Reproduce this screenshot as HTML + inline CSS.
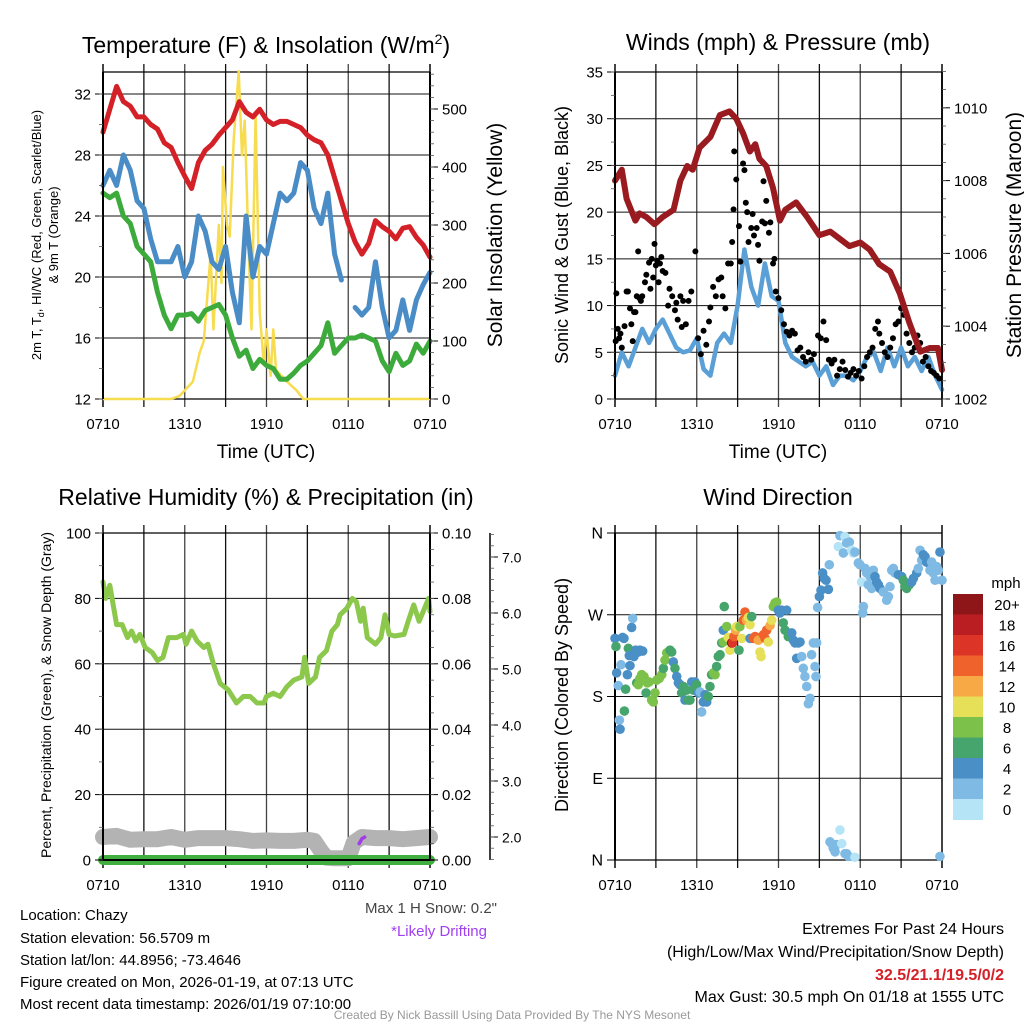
<!DOCTYPE html>
<html><head><meta charset="utf-8">
<style>
html,body{margin:0;padding:0;background:#fff;}
svg{display:block;font-family:"Liberation Sans",Arial,sans-serif;}
</style></head>
<body>
<svg id="fig" width="1024" height="1024" viewBox="0 0 1024 1024" xmlns="http://www.w3.org/2000/svg">
<rect x="0" y="0" width="1024" height="1024" fill="#fff"/>
<text x="266" y="53" font-size="23" text-anchor="middle">Temperature (F) &amp; Insolation (W/m<tspan font-size="14" dy="-9">2</tspan><tspan dy="9">)</tspan></text>
<text x="778" y="50" font-size="23" text-anchor="middle">Winds (mph) &amp; Pressure (mb)</text>
<text x="266" y="505" font-size="23" text-anchor="middle">Relative Humidity (%) &amp; Precipitation (in)</text>
<text x="778" y="505" font-size="23" text-anchor="middle">Wind Direction</text>
<text x="266" y="458" font-size="19" text-anchor="middle">Time (UTC)</text>
<text x="778" y="458" font-size="19" text-anchor="middle">Time (UTC)</text>
<text transform="translate(41,235) rotate(-90)" font-size="13" text-anchor="middle">2m T, T<tspan font-size="9" dy="3">d</tspan><tspan dy="-3">, HI/WC (Red, Green, Scarlet/Blue)</tspan></text>
<text transform="translate(58,235) rotate(-90)" font-size="13" text-anchor="middle">&amp; 9m T (Orange)</text>
<text transform="translate(502,235) rotate(-90)" font-size="21" text-anchor="middle">Solar Insolation (Yellow)</text>
<text transform="translate(568,235) rotate(-90)" font-size="18" text-anchor="middle">Sonic Wind &amp; Gust (Blue, Black)</text>
<text transform="translate(1021,235) rotate(-90)" font-size="21" text-anchor="middle">Station Pressure (Maroon)</text>
<text transform="translate(51,695) rotate(-90)" font-size="14" text-anchor="middle">Percent, Precipitation (Green), &amp; Snow Depth (Gray)</text>
<text transform="translate(568,695) rotate(-90)" font-size="18" text-anchor="middle">Direction (Colored By Speed)</text>
<g font-size="15" fill="#000">
<text x="20" y="920">Location: Chazy</text>
<text x="20" y="943">Station elevation: 56.5709 m</text>
<text x="20" y="965">Station lat/lon: 44.8956; -73.4646</text>
<text x="20" y="987">Figure created on Mon, 2026-01-19, at 07:13 UTC</text>
<text x="20" y="1009">Most recent data timestamp: 2026/01/19 07:10:00</text>
</g>
<text x="497" y="913" font-size="15" fill="#444" text-anchor="end">Max 1 H Snow: 0.2"</text>
<text x="487" y="936" font-size="15" fill="#a040f0" text-anchor="end">*Likely Drifting</text>
<g font-size="16" text-anchor="end">
<text x="1004" y="934">Extremes For Past 24 Hours</text>
<text x="1004" y="957">(High/Low/Max Wind/Precipitation/Snow Depth)</text>
<text x="1004" y="980" fill="#d42027" font-weight="bold">32.5/21.1/19.5/0/2</text>
<text x="1004" y="1002">Max Gust: 30.5 mph On 01/18 at 1555 UTC</text>
</g>
<text x="512" y="1019" font-size="12" fill="#999" text-anchor="middle">Created By Nick Bassill Using Data Provided By The NYS Mesonet</text>
<g id="root"></g>
</svg>
<script>
// ---------- DATA ----------
const xTickLabels = ["0710","1310","1910","0110","0710"];
const xTickHours = [0,6,12,18,24];
const tempTimes = [0,0.5,1,1.5,2,2.5,3,3.5,4,4.5,5,5.5,6,6.5,7,7.5,8,8.5,9,9.5,10,10.5,11,11.5,12,12.5,13,13.5,14,14.5,15,15.5,16,16.5,17,17.5,18,18.5,19,19.5,20,20.5,21,21.5,22,22.5,23,23.5,24];
const tempRed = [29.5,31,32.5,31.5,31.2,30.5,30.5,30,29.7,28.8,28.5,27.5,26.6,25.8,27.5,28.3,28.7,29.3,29.8,30.3,31.5,30.8,30.5,31,30.3,30,30.2,30.2,30,29.8,29.3,29,28.8,28,26.5,25,23.5,22.3,21.5,22.2,23.7,23.3,23,22.5,23.2,23.3,22.6,22.1,21.3];
const tempBlue = [26,27,26,28,27,25,24.5,22.5,21,21,21,22,20,21,24,23,21,20.5,22,19,17,24,20,22,21.5,23.5,25.5,25,25.5,27.5,27,24.5,23.5,25.5,21.5,19.8,null,18,17.5,18,21,18,16,16.5,18.5,16.5,18.5,19.5,20.3];
const tempGreen = [25.5,25.2,25.5,24,23.5,22,21.5,21,19,17.5,16.6,17.5,17.5,17.6,17.1,17.8,18,18.2,17.5,16,14.8,15.2,14,14.6,14.2,14,13.3,13.3,13.7,14.2,14.5,15,15.5,17,15,15.5,16,16,16.2,16,15.8,14.5,13.8,15,14.2,14.5,15.6,15,15.8];
const solarTimes = [0,5,5.6,6,6.6,7.1,7.4,7.9,8.1,8.5,8.7,8.8,9.1,9.3,9.6,9.96,10.2,10.4,10.7,10.9,11.2,11.5,11.8,12,12.3,12.5,12.7,13.5,14.2,14.7,24];
const solarVals = [0,0,5,15,30,80,100,250,120,300,200,400,300,280,450,565,420,480,250,120,490,150,60,120,40,120,50,30,15,0,0];
const windTimes = tempTimes;
const windSpeed = [2.5,5,3.5,5.5,7.5,6,7.5,8.5,7,5.5,5,5.2,6.5,3.2,2.5,6,7,6,10,16,12,10,14.5,11,10.5,6,4.5,4,3.5,4,2.5,3.5,1.5,2.5,2.5,2,3,4.5,5,3,5.5,3.5,5.5,3.5,4.5,3,4.5,2.5,1];
const pressTimes = [0,0.5,0.85,1.5,1.8,2.3,2.9,3.5,4.3,4.8,5.3,5.7,6.2,7.0,7.7,8.4,8.9,9.4,9.9,10.3,10.6,11.1,11.6,12.1,12.5,13.3,14.1,15.0,15.8,16.5,17.2,18.0,18.7,19.4,20.2,20.9,21.6,22.4,23.1,23.7,24];
const pressVals = [1008.0,1008.3,1007.5,1006.9,1007.1,1007,1006.8,1007,1007.2,1008,1008.4,1008.3,1008.9,1009.2,1009.8,1009.9,1009.7,1009.3,1008.8,1009.0,1008.6,1008.4,1007.8,1006.9,1007.2,1007.4,1007.0,1006.5,1006.6,1006.4,1006.2,1006.3,1006.1,1005.7,1005.5,1004.9,1004.1,1003.3,1003.4,1003.4,1002.8];
const gustTimes = [0.05,0.1,0.2,0.3,0.4,0.5,0.7,0.85,0.95,1.1,1.2,1.3,1.4,1.5,1.6,1.7,1.8,1.9,2.0,2.2,2.3,2.5,2.6,2.7,2.8,2.9,3.0,3.1,3.2,3.3,3.4,3.5,3.7,3.9,4.0,4.2,4.4,4.5,4.6,4.8,4.9,5.0,5.2,5.4,5.6,5.9,6.1,6.3,6.5,6.7,6.9,7.0,7.2,7.4,7.6,7.8,7.9,8.1,8.3,8.5,8.6,8.7,8.75,8.9,9.1,9.2,9.4,9.5,9.6,9.7,9.8,10.0,10.1,10.2,10.4,10.5,10.6,10.8,10.9,11.0,11.1,11.3,11.4,11.6,11.7,11.8,12.0,12.2,12.4,12.6,12.8,13.0,13.2,13.4,13.6,13.8,14.0,14.2,14.4,14.6,14.9,15.1,15.3,15.5,15.7,15.9,16.1,16.3,16.5,16.7,16.9,17.1,17.3,17.5,17.7,17.9,18.1,18.3,18.5,18.7,18.9,19.1,19.3,19.4,19.6,19.8,20.0,20.2,20.4,20.6,20.8,21.0,21.2,21.4,21.6,21.8,22.0,22.2,22.4,22.6,22.8,23.0,23.2,23.4,23.6,23.8];
const gustVals = [6.2,11.3,7.5,6.5,7,5.5,7.8,11.5,11.5,9.7,8,6.2,9.3,9.3,11,15.8,10.8,10.5,11,12.5,13.3,14.6,11.8,15,13,16.6,14.3,14.8,12.5,14.5,15.2,13.7,13.5,10,11.8,11,9.5,10.3,8.5,11,7.7,10.5,8,10.5,11.5,15.8,6.5,4.8,7.3,5.8,8.3,9.8,12,11,12.8,13,11,9.7,14.5,14.5,16.8,20.3,26.5,23.5,18.5,14.7,25.2,24.5,21,20,16.8,18.3,19.8,17.5,18.3,16.5,14.8,19,23.3,18.8,21.2,17.8,18.9,14.5,15,11.5,10.8,9.5,8,7.2,6.8,7.3,7,5.2,5.5,4.5,4,5,4.2,4.8,6.8,6.5,8.3,6.3,4.2,3.8,4.2,2.5,3.2,4,3.1,2.4,2.8,3.2,2.5,3,2.2,3.5,4.5,5,5.5,7.5,8.3,7,6,5,4.5,5.5,6.5,8,8.3,9.7,9,7,6,5,5.5,6.8,6,4,4.5,3.5,3,2.8,2.5,2.2];
const rhTimes = [0,0.2,0.5,1.0,1.4,1.8,2.1,2.4,2.7,3.1,3.6,4.0,4.4,4.8,5.4,5.9,6.1,6.5,6.9,7.4,7.7,8.1,8.6,9.2,9.8,10.3,10.8,11.3,11.8,12.0,12.5,13.0,13.5,14.0,14.6,14.8,15.1,15.6,15.9,16.4,16.8,17.2,17.4,17.9,18.3,18.6,18.9,19.1,19.4,20.0,20.4,20.7,21.0,21.4,22.1,22.4,22.8,23.2,23.5,23.9,24];
const rhVals = [85,80,84,72,72,68,70,67,69,65,63.5,61,62,68,68,69,66,70,67,65,66,60,54,52,48,50,50,48,48,50,51,50,53,55,56,62,54,56,62,64,70,72,75,77,80,79,73,77,68,66,68,75,69,68.5,69,73,78,73,76,80,76];
const snowTimes = [0,1,2,3,4,5,6,7,8,9,10,11,12,13,14,15,15.5,16,16.4,17,18,18.4,19,20,21,22,23,24];
const snowVals = [2.0,2.02,1.95,1.96,1.96,2.0,1.95,1.98,1.98,1.98,1.96,1.93,1.94,1.93,1.93,1.95,1.93,1.75,1.63,1.62,1.62,1.9,2.0,1.98,1.98,1.96,1.98,2.0];
const precipTimes = [0,24];
const precipVals = [0,0];
const driftTimes = [18.8,19.0,19.2];
const driftVals = [5,6.5,7];
const dirTimes = [0.0,0.07,0.12,0.24,0.32,0.37,0.44,0.56,0.66,0.78,0.69,0.91,0.98,1.10,1.05,1.22,1.30,1.39,1.52,1.71,1.83,2.03,
1.59,1.71,1.83,1.96,2.13,2.28,2.37,2.50,2.69,2.81,2.94,3.06,3.25,3.43,3.55,3.67,3.79,3.91,4.04,4.16,
4.28,4.40,4.53,4.65,4.77,4.89,5.02,5.14,5.26,5.38,5.50,5.63,5.75,5.87,5.99,6.12,6.24,6.36,6.48,6.61,6.73,6.85,6.97,7.09,7.22,7.34,7.46,7.58,7.71,
7.83,7.95,8.02,7.95,8.20,8.32,8.44,8.56,8.64,8.73,8.86,8.93,9.10,9.17,9.30,9.42,9.54,9.66,9.79,9.91,10.03,9.91,
10.15,10.28,10.40,10.52,10.64,10.72,10.89,11.01,11.13,11.25,11.38,11.50,11.62,11.74,11.87,11.99,12.11,12.23,12.35,12.48,12.60,12.72,
12.97,13.09,13.21,13.33,13.46,13.58,13.70,13.82,13.94,14.07,14.19,14.31,14.43,14.56,14.68,14.75,14.80,
14.87,15.00,15.12,15.24,15.34,15.49,15.66,15.73,
16.39,16.51,16.76,16.88,17.00,17.20,17.37,17.49,17.61,17.86,17.98,18.10,18.23,18.18,18.35,18.47,18.59,18.72,18.84,18.96,19.08,19.20,19.33,19.45,19.69,19.94,20.06,20.18,20.31,20.43,20.55,20.80,21.04,21.16,21.28,21.41,21.60,21.77,21.90,22.14,22.26,22.39,22.51,22.63,22.75,22.87,23.00,23.12,23.24,23.36,23.49,23.61,23.73,23.85,24.0,
15.78,15.90,16.02,16.15,16.27,16.51,16.64,16.88,17.00,17.13,17.61,23.85];
const dirVals = [244,235,206,192,154,144,215,245,244,188,164,204,233,214,225,256,266,224,231,229,231,230,
195,193,200,204,202,184,195,196,176,174,184,198,200,204,211,220,228,229,231,229,
218,211,202,195,193,184,191,176,187,176,176,196,187,196,193,184,185,163,174,182,174,180,191,204,206,204,213,224,226,
239,240,279,253,257,245,231,239,239,246,253,257,231,257,244,264,273,264,267,259,268,244,
244,246,245,242,229,224,248,244,253,240,258,264,279,283,284,275,272,275,261,253,275,246,
250,242,239,222,239,240,224,211,202,191,172,178,226,239,213,202,239,
278,290,297,316,310,308,298,325,
345,357,338,356,349,350,341,338,339,327,325,306,279,272,321,316,303,312,299,319,312,306,303,299,295,286,290,301,319,321,316,314,312,308,301,299,303,306,310,316,321,341,330,336,334,328,327,319,328,316,308,323,319,339,308,
20,18,13,9,17,33,18,7,7,4,3,4];
const dirSpeeds = [4,6,4,2,2,4,2,4,4,6,6,4,6,4,4,4,2,4,4,4,4,4,
6,8,8,8,8,6,8,8,8,8,8,8,8,8,6,8,8,8,6,6,
4,6,4,4,4,6,6,4,6,6,6,4,6,4,6,4,2,2,4,4,4,6,6,6,8,8,6,6,6,
6,8,6,4,8,10,10,20,16,14,12,10,6,8,10,14,14,12,10,10,6,4,
14,14,14,12,10,10,14,14,14,10,12,10,8,8,8,4,4,4,6,6,4,6,
4,4,4,4,4,4,2,2,2,2,2,2,2,2,2,2,2,
2,4,4,4,4,4,4,2,
0,2,2,0,2,2,1,0,2,2,2,1,2,2,2,2,2,2,2,2,4,4,4,4,2,2,2,2,2,2,2,4,4,6,6,6,6,4,4,4,2,2,2,4,4,4,4,2,2,2,2,2,2,4,2,
2,2,2,2,2,0,0,2,2,2,0,2];
const speedBinLabels = ["0","2","4","6","8","10","12","14","16","18","20+"];
const speedBinColors = ["#b5e4f7","#7ebae3","#4a8fc6","#46a56c","#7cc24a","#e6df58","#f6a945","#ef622c","#dc3427","#ba1e23","#8e1618"];
const tempTicks = [12,16,20,24,28,32];
const solarTicks = [0,100,200,300,400,500];
const windTicks = [0,5,10,15,20,25,30,35];
const pressTicks = [1002,1004,1006,1008,1010];
const rhTicks = [0,20,40,60,80,100];
const precipTickLabels = ["0.00","0.02","0.04","0.06","0.08","0.10"];
const snowTicks = [2,3,4,5,6,7];
const dirTickLabels = ["N","E","S","W","N"];
const dirTicks = [0,90,180,270,360];

// ---------- HELPERS ----------
const NS = "http://www.w3.org/2000/svg";
const root = document.getElementById("root");
function mk(tag, attrs, parent){
  const e = document.createElementNS(NS, tag);
  for (const k in attrs) e.setAttribute(k, attrs[k]);
  (parent||root).appendChild(e);
  return e;
}
function pathFrom(ts, vs, xf, yf){
  let d = "", pen = false;
  for (let i=0;i<ts.length;i++){
    if (vs[i]===null){ pen=false; continue; }
    d += (pen?"L":"M") + xf(ts[i]).toFixed(1) + "," + yf(vs[i]).toFixed(1);
    pen = true;
  }
  return d;
}
function gridAndFrame(x0,x1,y0,y1,xf,hTicksY,name){
  const g = mk("g",{});
  
  
  for (let h=0; h<=24; h+=3){
    const x = xf(h);
    const l = mk("line",{x1:x,x2:x,y1:y0-8,y2:y1+8,stroke:(h%6===0?"#444":"#111"),"stroke-width":(h===0||h===24)?2:1.3},g);
    
    
  }
  hTicksY.forEach(y=>{
    const l = mk("line",{x1:x0,x2:x1,y1:y,y2:y,stroke:"#111","stroke-width":1},g);
    
    
  });
  const t = mk("line",{x1:x0,x2:x1,y1:y0,y2:y0,stroke:"#000","stroke-width":1.2},g);
  
  
  const b = mk("line",{x1:x0,x2:x1,y1:y1,y2:y1,stroke:"#000","stroke-width":1.2},g);
  
  
}
function xLabels(xf,y,name){
  xTickHours.forEach((h,i)=>{
    const t = mk("text",{x:xf(h),y:y,"font-size":15,"text-anchor":"middle"});
    t.textContent = xTickLabels[i];
    
    
  });
}
function yAxis(x, ticks, labels, yf, side, minorStep, lo, hi, name, fs){
  const dir = side==="left"?-1:1;
  ticks.forEach((v,i)=>{
    const y = yf(v);
    const tk = mk("line",{x1:x,x2:x+dir*8,y1:y,y2:y,stroke:"#000","stroke-width":1});
    
    
    const t = mk("text",{x:x+dir*12,y:y+5.5,"font-size":fs||15,"text-anchor":side==="left"?"end":"start"});
    t.textContent = labels[i];
    
    
  });
  if (minorStep){
    for (let v=lo; v<=hi+1e-9; v+=minorStep){
      const y = yf(v);
      const tk = mk("line",{x1:x,x2:x+dir*4,y1:y,y2:y,stroke:"#555","stroke-width":0.8});
      
      
    }
  }
}

// ---------- PANEL 1 ----------
const p1 = {x0:103,x1:430,y0:72,y1:399};
const xs1 = h => p1.x0 + h*(p1.x1-p1.x0)/24;
const yT = v => p1.y1 - (v-12)*15.25;
const yS = v => p1.y1 - v*0.58;
gridAndFrame(p1.x0,p1.x1,p1.y0,p1.y1,xs1,tempTicks.map(yT),"temperature");
let e;
e = mk("path",{d:pathFrom(solarTimes,solarVals,xs1,yS),fill:"none",stroke:"#f7dc4f","stroke-width":2.5,"stroke-linejoin":"round"});


e = mk("path",{d:pathFrom(tempTimes,tempGreen,xs1,yT),fill:"none",stroke:"#3dab3c","stroke-width":5,"stroke-linejoin":"round","stroke-linecap":"round"});


e = mk("path",{d:pathFrom(tempTimes,tempBlue,xs1,yT),fill:"none",stroke:"#4a8cc6","stroke-width":5,"stroke-linejoin":"round","stroke-linecap":"round"});


e = mk("path",{d:pathFrom(tempTimes,tempRed,xs1,yT),fill:"none",stroke:"#d42128","stroke-width":5,"stroke-linejoin":"round","stroke-linecap":"round"});


e = mk("line",{x1:p1.x0,x2:p1.x0,y1:p1.y0,y2:p1.y1,stroke:"#000","stroke-width":2});


e = mk("line",{x1:p1.x1,x2:p1.x1,y1:p1.y0,y2:p1.y1,stroke:"#000","stroke-width":2});


yAxis(p1.x0,tempTicks,tempTicks.map(String),yT,"left",2,12,33,"temperature-y");
yAxis(p1.x1,solarTicks,solarTicks.map(String),yS,"right",20,0,560,"solar-y");
xLabels(xs1,429,"temperature");

// ---------- PANEL 2 ----------
const p2 = {x0:615,x1:942,y0:72,y1:399};
const xs2 = h => p2.x0 + h*(p2.x1-p2.x0)/24;
const yW = v => p2.y1 - v*9.343;
const yP = v => p2.y1 - (v-1002)*36.4;
gridAndFrame(p2.x0,p2.x1,p2.y0,p2.y1,xs2,windTicks.map(yW),"winds");
e = mk("path",{d:pathFrom(windTimes,windSpeed,xs2,yW),fill:"none",stroke:"#5a9fd6","stroke-width":4.5,"stroke-linejoin":"round","stroke-linecap":"round"});


gustTimes.forEach((t,i)=>{
  const c = mk("circle",{cx:xs2(t),cy:yW(gustVals[i]),r:3,fill:"#000"});
  
  
});
e = mk("path",{d:pathFrom(pressTimes,pressVals,xs2,yP),fill:"none",stroke:"#9a1b1f","stroke-width":6,"stroke-linejoin":"round","stroke-linecap":"round"});


e = mk("line",{x1:p2.x0,x2:p2.x0,y1:p2.y0,y2:p2.y1,stroke:"#000","stroke-width":2});


e = mk("line",{x1:p2.x1,x2:p2.x1,y1:p2.y0,y2:p2.y1,stroke:"#000","stroke-width":1.5});


yAxis(p2.x0,windTicks,windTicks.map(String),yW,"left",2.5,0,35,"wind-y");
yAxis(p2.x1,pressTicks,pressTicks.map(String),yP,"right",0.5,1002,1011,"pressure-y");
xLabels(xs2,429,"winds");

// ---------- PANEL 3 ----------
const p3 = {x0:103,x1:430,y0:533,y1:860};
const xs3 = xs1;
const yR = v => p3.y1 - v*3.27;
const ySn = v => 837 - (v-2)*56;
gridAndFrame(p3.x0,p3.x1,p3.y0,p3.y1,xs3,rhTicks.map(yR),"humidity");
e = mk("path",{d:pathFrom(snowTimes,snowVals,xs3,ySn),fill:"none",stroke:"#b3b3b3","stroke-width":16,"stroke-linejoin":"round","stroke-linecap":"round"});


e = mk("path",{d:pathFrom(precipTimes,precipVals,xs3,yR),fill:"none",stroke:"#3fae3f","stroke-width":10,"stroke-linecap":"round"});


e = mk("path",{d:pathFrom(rhTimes,rhVals,xs3,yR),fill:"none",stroke:"#8cc84b","stroke-width":5,"stroke-linejoin":"round","stroke-linecap":"round"});


e = mk("path",{d:pathFrom(driftTimes,driftVals,xs3,yR),fill:"none",stroke:"#a23be8","stroke-width":3.5,"stroke-linecap":"round"});


e = mk("line",{x1:p3.x0,x2:p3.x0,y1:p3.y0,y2:p3.y1,stroke:"#000","stroke-width":2});


e = mk("line",{x1:p3.x1,x2:p3.x1,y1:p3.y0,y2:p3.y1,stroke:"#000","stroke-width":2});


e = mk("line",{x1:p3.x0-4,x2:p3.x1+4,y1:p3.y1,y2:p3.y1,stroke:"#000","stroke-width":2});


yAxis(p3.x0,rhTicks,rhTicks.map(String),yR,"left",10,0,100,"humidity-y");
yAxis(p3.x1,rhTicks,precipTickLabels,yR,"right",5,0,100,"precip-y");
e = mk("line",{x1:490,x2:490,y1:p3.y0,y2:p3.y1,stroke:"#000","stroke-width":1.5});


yAxis(490,snowTicks,snowTicks.map(v=>v.toFixed(1)),ySn,"right",0.2,1.6,7.4,"snow-y",14);
xLabels(xs3,890,"humidity");

// ---------- PANEL 4 ----------
const p4 = {x0:615,x1:942,y0:533,y1:860};
const xs4 = xs2;
const yD = v => p4.y1 - v*(p4.y1-p4.y0)/360;
gridAndFrame(p4.x0,p4.x1,p4.y0,p4.y1,xs4,dirTicks.map(yD),"direction");
e = mk("line",{x1:p4.x0,x2:p4.x0,y1:p4.y0,y2:p4.y1,stroke:"#000","stroke-width":2});


yAxis(p4.x0,dirTicks,dirTickLabels,yD,"left",0,0,0,"direction-y",16);
function speedColor(s){ return speedBinColors[Math.min(10, Math.floor(s/2))]; }
dirTimes.forEach((t,i)=>{
  const c = mk("circle",{cx:xs4(t),cy:yD(dirVals[i]),r:4.8,fill:speedColor(dirSpeeds[i])});
  
  
});
xLabels(xs4,890,"direction");
const cbTop = 594, cbH = 20.5;
const cbT = mk("text",{x:1006,y:588,"font-size":15,"text-anchor":"middle"});
cbT.textContent = "mph";


speedBinLabels.forEach((lab,i)=>{
  const k = speedBinLabels.length-1-i;
  const r = mk("rect",{x:953,y:cbTop+i*cbH,width:30,height:cbH+0.5,fill:speedBinColors[k]});
  
  
  const t = mk("text",{x:1007,y:cbTop+i*cbH+cbH/2+5.5,"font-size":15,"text-anchor":"middle"});
  t.textContent = speedBinLabels[k];
  
  
});
</script>
</body></html>
